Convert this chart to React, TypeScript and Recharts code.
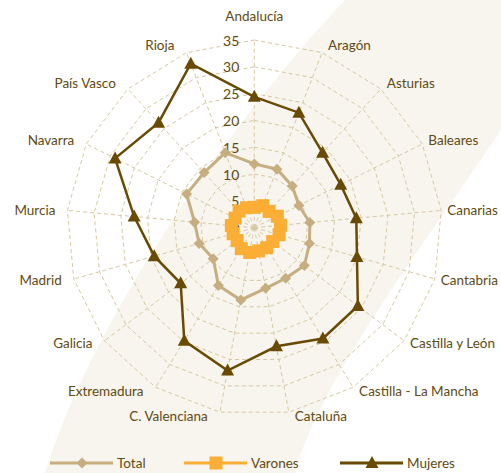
import { RadarChart, Radar, PolarGrid, PolarAngleAxis, PolarRadiusAxis } from "recharts";

// ── Data ──────────────────────────────────────────────────────────────────────
const regions = [
  "Andalucía", "Aragón", "Asturias", "Baleares", "Canarias", "Cantabria",
  "Castilla y León", "Castilla - La Mancha", "Cataluña", "C. Valenciana",
  "Extremadura", "Galicia", "Madrid", "Murcia", "Navarra", "País Vasco", "Rioja",
];
const total = [11.9, 11.7, 10.5, 9.3, 10.4, 10.7, 11.7, 11.1, 11.5, 13.7, 12.7, 9.6, 10.7, 11.2, 14.1, 13.9, 15.0];
const varones = [3.8, 4.4, 4.1, 4.8, 4.9, 4.8, 4.3, 4.4, 4.4, 4.7, 4.6, 4.0, 4.1, 4.3, 4.0, 4.2, 4.0];
const mujeres = [24.4, 23.0, 18.9, 18.0, 19.1, 19.9, 24.2, 24.3, 22.5, 27.1, 24.8, 17.2, 19.4, 22.5, 29.0, 26.5, 32.8];
const radiusTicks = [0, 5, 10, 15, 20, 25, 30, 35];

const data = regions.map((name, i) => ({
  name,
  total: total[i],
  varones: varones[i],
  mujeres: mujeres[i],
}));

// ── Look ──────────────────────────────────────────────────────────────────────
const W = 501;
const H = 473;
const CX = 254.3;
const CY = 227.7;
const R = 187.7;
const FONT = "Lato, 'Open Sans', sans-serif";
const TEXT = "#5f4a12";
const C_TOTAL = "#c6ae80";
const C_VARONES = "#fbae35";
const C_MUJERES = "#694a03";
const GRID = "#d8c8a2";

// ── Markers ───────────────────────────────────────────────────────────────────
const diamond = (x: number, y: number, fill: string, key?: any) => (
  <path key={key} d={`M${x} ${y - 5.5}L${x + 5.5} ${y}L${x} ${y + 5.5}L${x - 5.5} ${y}Z`} fill={fill} />
);
const square = (x: number, y: number, fill: string, key?: any, s = 13) => (
  <rect key={key} x={x - s / 2} y={y - s / 2} width={s} height={s} fill={fill} />
);
const triangle = (x: number, y: number, fill: string, key?: any) => (
  <path key={key} d={`M${x} ${y - 7}L${x + 6.5} ${y + 5}L${x - 6.5} ${y + 5}Z`} fill={fill} />
);

// ── Ticks ─────────────────────────────────────────────────────────────────────
function AngleTick({ x, y, payload }: any) {
  const dx = x - CX;
  const dy = y - CY;
  const len = Math.hypot(dx, dy) || 1;
  const ux = dx / len;
  const uy = dy / len;
  const vx = CX + ux * R;
  const vy = CY + uy * R;
  let anchor: "start" | "middle" | "end" = "middle";
  let tx = vx;
  let ty = vy;
  if (Math.abs(ux) < 0.01) {
    ty = vy + (uy < 0 ? -24 : 24);
  } else {
    anchor = ux > 0 ? "start" : "end";
    tx = vx + (ux > 0 ? 6 : -12);
    ty = vy + (uy < 0 ? 8 * uy : 4 * uy);
  }
  return (
    <text x={tx} y={ty} textAnchor={anchor} dominantBaseline="central" fontFamily={FONT} fontSize={13.5} fill={TEXT}>
      {payload.value}
    </text>
  );
}

function RadiusTick({ x, y, payload }: any) {
  return (
    <text x={x - 15} y={y} textAnchor="end" dominantBaseline="central" fontFamily={FONT} fontSize={14} fill={TEXT}>
      {payload.value}
    </text>
  );
}

// ── Legend ────────────────────────────────────────────────────────────────────
const legendItems = [
  { name: "Total", color: C_TOTAL, marker: diamond, x: 50 },
  { name: "Varones", color: C_VARONES, marker: square, x: 184 },
  { name: "Mujeres", color: C_MUJERES, marker: triangle, x: 340 },
];

function ChartLegend() {
  return (
    <svg width={W} height={24} style={{ position: "absolute", left: 0, top: 451 }}>
      {legendItems.map((it) => (
        <g key={it.name}>
          <line x1={it.x} x2={it.x + 63} y1={12} y2={12} stroke={it.color} strokeWidth={3} />
          {it.marker(it.x + 32, 12, it.color)}
          <text x={it.x + 67} y={12} dominantBaseline="central" fontFamily={FONT} fontSize={13.5} fill={TEXT}>
            {it.name}
          </text>
        </g>
      ))}
    </svg>
  );
}

// ── Component ─────────────────────────────────────────────────────────────────
export default function App() {
  return (
    <div style={{ position: "absolute", left: 0, top: 0, width: W, height: H, background: "#fff", overflow: "hidden" }}>
      {/* decorative swoosh behind the chart */}
      <svg width={W} height={H} style={{ position: "absolute", left: 0, top: 0 }}>
        <path d="M345 0 C250 100, 100 300, 45 473 L295 473 C320 380, 420 250, 501 130 L501 0 Z" fill="#f7f5ee" />
      </svg>
      <div style={{ position: "absolute", left: 0, top: 0 }}>
        <RadarChart
          width={W}
          height={H}
          data={data}
          cx={CX}
          cy={CY}
          outerRadius={R}
          margin={{ top: 0, right: 0, bottom: 0, left: 0 }}
        >
          <PolarGrid gridType="polygon" stroke={GRID} strokeDasharray="4 3" polarRadius={radiusTicks.map((t) => (t / 35) * R)} />
          <PolarAngleAxis dataKey="name" tick={<AngleTick />} tickLine={false} axisLine={false} />
          <Radar
            dataKey="total"
            stroke={C_TOTAL}
            strokeWidth={3}
            fill="none"
            fillOpacity={0}
            dot={(p: any) => diamond(p.cx, p.cy, C_TOTAL, p.index)}
            isAnimationActive={false}
          />
          <Radar
            dataKey="varones"
            stroke={C_VARONES}
            strokeWidth={3}
            fill="none"
            fillOpacity={0}
            dot={(p: any) => square(p.cx, p.cy, C_VARONES, p.index)}
            isAnimationActive={false}
          />
          <Radar
            dataKey="mujeres"
            stroke={C_MUJERES}
            strokeWidth={2.5}
            fill="none"
            fillOpacity={0}
            dot={(p: any) => triangle(p.cx, p.cy, C_MUJERES, p.index)}
            isAnimationActive={false}
          />
          <PolarRadiusAxis
            angle={90}
            domain={[0, 35]}
            ticks={radiusTicks as any}
            tickCount={8}
            tick={<RadiusTick />}
            axisLine={false}
            tickLine={false}
          />
        </RadarChart>
      </div>
      <ChartLegend />
    </div>
  );
}
